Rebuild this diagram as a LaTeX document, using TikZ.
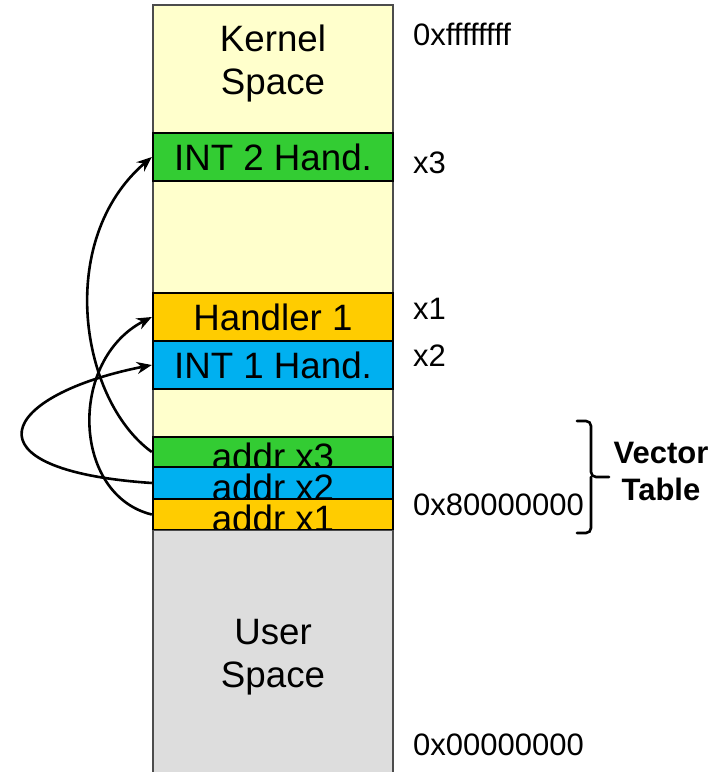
\documentclass[tikz,border=0pt]{standalone}
\usepackage{fontspec}
\setmainfont{Liberation Sans}
\usetikzlibrary{arrows.meta}
\definecolor{kernelbg}{HTML}{FFFFCC}
\definecolor{usergray}{HTML}{DDDDDD}
\definecolor{intgreen}{HTML}{33CC33}
\definecolor{handyellow}{HTML}{FFCC00}
\definecolor{intblue}{HTML}{00B0F0}
\begin{document}
\begin{tikzpicture}[x=1pt,y=-1pt,
  region/.style={draw=black!70, line width=1.4pt, inner sep=0pt, minimum width=240pt},
  slot/.style={draw=black, line width=2.4pt, inner sep=0pt, minimum width=240pt,
    font=\fontsize{36.7}{43}\selectfont},
  bigtext/.style={font=\fontsize{36.7}{43}\selectfont, inner sep=0pt, align=center},
  addrtext/.style={font=\fontsize{36.7}{43}\selectfont, inner sep=0pt, anchor=base},
  sidelabel/.style={font=\fontsize{31}{37}\selectfont, inner sep=0pt, anchor=base west},
  vecjump/.style={line width=2.6pt, -{Stealth[length=15pt,width=12pt]}},
  bracket/.style={line width=2.6pt, rounded corners=5pt, line cap=round}
]
\useasboundingbox (0,0) rectangle (715,772);

% kernel half of the address space
\node[region, fill=kernelbg, minimum height=526pt] (kernel) at (273,268) {};
\node[bigtext] (kernelname) at (273,64) {Kernel\\Space};

% interrupt handlers
\node[slot, fill=intgreen, minimum height=48pt] (int2) at (273,157) {INT 2 Hand.};
\node[slot, fill=handyellow, minimum height=48pt] (hand1) at (273,317) {Handler 1};
\node[slot, fill=intblue, minimum height=48pt] (int1) at (273,365) {INT 1 Hand.};

% vector table entries (each text sinks under the next entry)
\node[slot, fill=intgreen, minimum height=30pt] (vx3) at (273,452) {};
\node[addrtext] (vx3text) at (273,469) {addr x3};
\node[slot, fill=intblue, minimum height=32pt] (vx2) at (273,483) {};
\node[addrtext] (vx2text) at (273,500) {addr x2};
\node[slot, fill=handyellow, minimum height=31pt] (vx1) at (273,514.5) {};
\node[addrtext] (vx1text) at (273,531) {addr x1};

% user half of the address space
\node[region, fill=usergray, minimum height=250pt, anchor=north] (user) at (273,530) {};
\node[bigtext] (username) at (273,657) {User\\Space};

% addresses
\node[sidelabel] (atop) at (413,45) {0xffffffff};
\node[sidelabel] (ax3) at (413,173) {x3};
\node[sidelabel] (ax1) at (413,319) {x1};
\node[sidelabel] (ax2) at (413,366) {x2};
\node[sidelabel] (amid) at (413,515) {0x80000000};
\node[sidelabel] (abot) at (413,755) {0x00000000};

% vector table bracket
\draw[bracket] (577,421) -- (591,421) -- (591,477) -- (609,477);
\draw[bracket] (577,533) -- (591,533) -- (591,477);
\node[font=\bfseries\fontsize{31}{37}\selectfont, align=center, inner sep=0pt] (vtab) at (661,471) {Vector\\Table};

% vector entries pointing at their handlers
\draw[vecjump] (vx3.west) .. controls (80,400) and (55,240) .. (int2.west);
\draw[vecjump] (vx2.west) .. controls (-40,470) and (0,395) .. (int1.west);
\draw[vecjump] (vx1.west) .. controls (72,495) and (68,360) .. (hand1.west);
\end{tikzpicture}
\end{document}
